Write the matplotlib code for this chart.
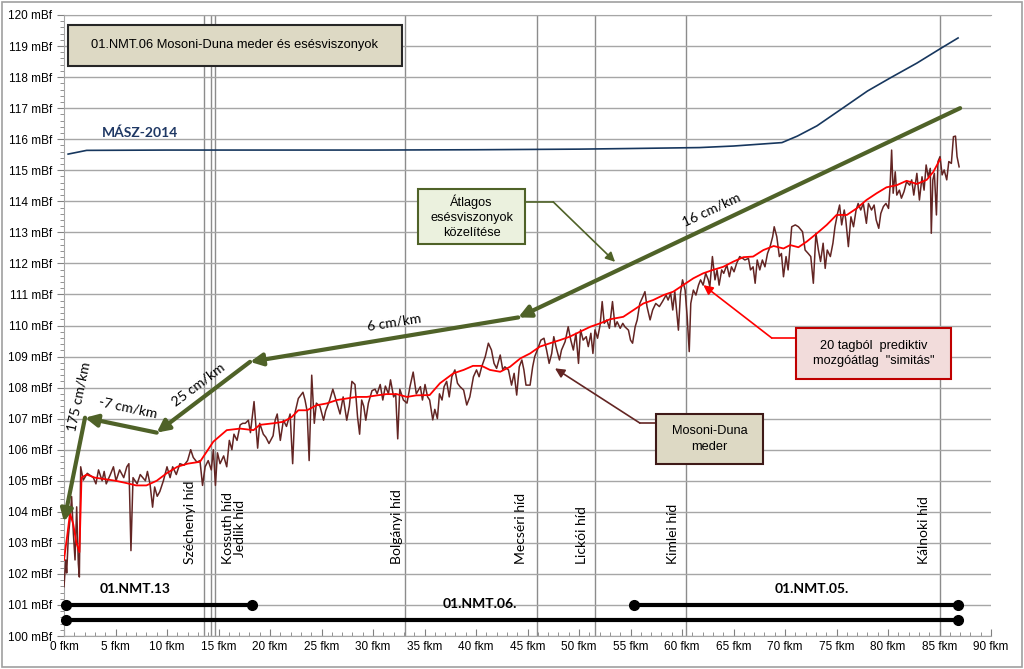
"""Mosoni-Duna meder es esesviszonyok (01.NMT.06) longitudinal profile."""

import matplotlib

matplotlib.use("Agg")
import matplotlib.pyplot as plt
from matplotlib.patches import Rectangle

# --- riverbed (Mosoni-Duna meder), km / mBf ---
river_km = [
    0.0, 0.17, 0.26, 0.42, 0.58, 0.74, 0.91, 1.07, 1.23, 1.39, 1.49, 1.62, 1.87, 2.26,
    2.85, 3.1, 3.35, 3.7, 3.9, 4.1, 4.5, 4.8, 5.05, 5.4, 5.8, 6.1, 6.3, 6.5, 6.7,
    7.1, 7.4, 7.9, 8.1, 8.35, 8.6, 8.8, 9.05, 9.3, 9.65, 10.0, 10.3, 10.55, 10.9,
    11.25, 11.65, 12.0, 12.3, 12.55, 12.9, 13.2, 13.45, 13.7, 14.0, 14.3, 14.5,
    14.7, 14.9, 15.15, 15.5, 15.8, 16.05, 16.3, 16.5, 16.8, 17.1, 17.35, 17.6, 17.9,
    18.1, 18.45, 18.8, 19.0, 19.35, 19.6, 19.9, 20.3, 20.5, 20.7, 21.0, 21.3, 21.6,
    21.95, 22.2, 22.4, 22.75, 23.2, 23.4, 23.6, 23.8, 24.05, 24.3, 24.5, 24.85,
    25.2, 25.4, 25.8, 26.1, 26.5, 26.8, 27.1, 27.45, 27.7, 27.95, 28.25, 28.5,
    28.7, 28.9, 29.1, 29.3, 29.55, 29.9, 30.2, 30.4, 30.7, 30.95, 31.2, 31.5,
    31.7, 32.0, 32.2, 32.4, 32.6, 32.95, 33.3, 33.6, 33.9, 34.2,
    34.6, 34.8, 35.05, 35.3, 35.5, 35.8, 36.0, 36.25, 36.45, 36.7, 36.9, 37.15,
    37.4, 37.65, 37.95, 38.2, 38.45, 38.8, 39.1, 39.4, 39.75, 40.05, 40.3, 40.55,
    40.9, 41.2, 41.5, 41.75, 42.0, 42.35, 42.6, 42.8, 43.15, 43.45, 43.7, 43.95,
    44.2, 44.45, 44.65, 44.85, 45.25, 45.5, 45.7, 45.95, 46.3, 46.6, 46.85, 47.1,
    47.35, 47.55, 47.8, 48.1, 48.3, 48.65, 48.95, 49.2, 49.45, 49.7, 49.95, 50.15,
    50.4, 50.7, 50.9, 51.15, 51.35, 51.55, 51.8, 52.05, 52.25, 52.45, 52.7, 52.95,
    53.25, 53.5, 53.7, 54.0, 54.25, 54.45, 54.8, 55.0, 55.2, 55.45, 55.65, 55.9,
    56.2, 56.4, 56.6, 56.9, 57.15, 57.45, 57.8, 58.1, 58.45, 58.65, 58.9, 59.1,
    59.3, 59.65, 59.85, 60.05, 60.3, 60.5, 60.7, 60.85, 61.1, 61.35, 61.6, 61.8,
    62.05, 62.3, 62.55, 62.7, 62.95, 63.2, 63.4, 63.6, 63.85, 64.05, 64.35, 64.6,
    64.8, 65.05, 65.3, 65.6, 65.9, 66.1, 66.45, 66.65, 66.9, 67.1, 67.3, 67.55,
    67.8, 68.05, 68.3, 68.55, 68.8, 68.95, 69.2, 69.45, 69.65, 69.85, 70.1, 70.3,
    70.65, 71.0, 71.3, 71.7, 71.95, 72.25, 72.5, 72.75, 73.0, 73.24, 73.45, 73.7,
    73.9, 74.1, 74.4, 74.65, 74.85, 75.1, 75.3, 75.5, 75.75, 75.9, 76.15, 76.4,
    76.65, 76.9, 77.1, 77.35, 77.6, 77.9, 78.1, 78.4, 78.65, 78.85, 79.1, 79.3,
    79.55, 79.8, 80.05, 80.2, 80.35, 80.5, 80.7, 80.85, 81.1, 81.3, 81.55, 81.8,
    82.1, 82.3, 82.5, 82.8, 83.05, 83.3, 83.5, 83.7, 83.9, 84.1, 84.2, 84.35,
    84.5, 84.7, 84.85, 85.05, 85.25, 85.45, 85.7, 85.9, 86.15, 86.35, 86.55,
    86.7, 86.9,
]
river_mbf = [
    101.59, 102.45, 102.03, 103.2, 103.74, 104.49, 103.3, 102.45, 104.16, 102.34,
    101.9, 105.45, 105.02, 105.24,
    105.1, 104.9, 105.35, 105.0, 105.3, 104.9, 105.2, 105.45, 105.0, 105.35, 105.1,
    105.45, 105.55, 102.75, 105.1, 104.9, 105.2, 105.0, 105.3, 104.9, 104.15, 104.8,
    104.5, 104.65, 105.0, 105.45, 105.1, 105.45, 105.2, 105.55, 105.5, 105.65,
    106.0, 105.75, 105.6, 105.65, 104.85, 105.45, 105.65, 105.35, 106.0, 104.85,
    105.9, 105.55, 105.8, 105.45, 106.3, 106.0, 106.5, 106.3, 106.8, 106.85, 106.85,
    106.95,
    106.55, 107.55, 106.05, 106.85, 106.5, 106.4, 106.2, 106.45, 106.95, 107.15,
    106.3, 106.95, 106.75, 107.15, 105.55, 107.15, 107.65, 107.85, 107.6, 107.25,
    105.65, 108.4, 106.85, 107.5, 107.4, 106.95, 107.25, 107.6, 107.95, 107.5,
    107.15, 107.7, 106.95, 107.4, 108.2, 108.1, 107.05, 106.5, 107.6, 107.4, 106.95,
    107.5, 107.9, 107.95, 107.8, 108.1, 107.6, 108.05, 107.8, 108.25, 107.7, 107.8,
    106.35, 107.95, 107.6, 107.5, 108.05, 108.5, 107.8,
    108.03, 107.6, 108.1, 107.7, 107.6, 106.96, 107.3, 107.0, 107.8, 107.6, 108.03,
    108.2, 107.7, 108.35, 108.57, 108.14, 108.03, 107.92, 107.44, 107.7, 108.35,
    108.57, 108.35, 108.67, 109.0, 109.43, 109.21, 108.78, 108.62, 109.05, 108.57,
    108.67, 108.57, 108.08, 108.46, 107.76, 108.67, 108.89, 108.57, 108.08, 108.08,
    108.67, 109.0, 109.21, 109.53, 109.59, 109.21, 108.78, 109.1, 109.64, 109.27,
    108.89, 109.21, 109.48, 109.96, 109.53, 109.21, 109.75, 108.78, 109.86, 109.53,
    109.64, 109.32, 109.75, 109.1, 109.86, 109.59, 110.02, 110.77, 110.07, 110.18,
    109.91,
    110.77, 109.96, 110.12, 109.91, 110.07, 109.96, 109.85, 109.53, 109.43, 109.96,
    110.18, 110.71, 110.93, 111.09, 110.61, 110.18, 110.5, 110.71, 110.61, 110.77,
    110.98, 110.82, 111.04, 110.5, 111.09, 109.85, 111.04, 111.47, 111.14, 110.28,
    109.16, 110.71, 111.14, 110.98, 111.3, 111.47, 111.3, 111.68, 111.47, 111.25,
    112.22, 111.47, 111.79, 111.3, 111.79, 111.68, 111.95, 111.57, 111.89, 111.73,
    112.0, 112.22, 112.16, 112.11, 112.16, 111.79, 111.89, 111.36, 112.11, 111.79,
    112.11, 111.89, 112.32, 112.54, 112.86, 113.18, 112.86, 112.22, 112.32, 111.57,
    112.22, 111.79,
    113.18, 113.24, 113.18, 113.02, 112.43, 112.32, 112.22, 111.36, 112.97, 112.43,
    112.06, 112.65, 111.84, 112.43, 112.22, 112.65, 113.18, 113.61, 113.88, 113.24,
    113.72, 113.4, 112.54, 113.5, 113.18, 113.72, 113.93, 113.72, 113.93, 113.29,
    113.93, 113.72, 113.88, 113.4, 113.13, 113.61, 113.83, 113.93, 113.77, 114.47,
    115.65, 114.26, 114.95, 114.2, 114.36, 114.1, 114.31, 114.63, 114.52, 114.69,
    114.2, 114.9, 114.04, 114.79, 114.36, 115.17, 114.79, 115.06, 112.97, 114.69,
    114.9, 113.56, 115.28, 115.44, 114.85, 115.01, 114.69, 115.28, 115.22, 116.08,
    116.1, 115.44, 115.11,
]

# --- 20-term predictive moving average ("simitas") ---
smooth_km = [
    0.0, 0.3, 0.58, 0.9, 1.2, 1.5, 1.7, 2.2, 3.0, 4.0, 5.0, 6.0, 7.0, 8.0, 9.0,
    10.0, 11.0, 12.0, 13.2, 14.5, 15.8, 17.1, 18.4, 19.0, 20.3, 21.3, 22.1, 22.75,
    23.6, 24.5, 25.5, 26.5, 27.45, 28.4, 29.4, 30.4, 31.3, 32.3, 33.3, 34.2, 35.5,
    36.5, 37.8, 38.8, 39.7, 40.55, 41.35, 42.35, 43.3, 44.3, 45.25, 46.2, 47.2,
    48.15, 49.1, 50.1, 51.1, 52.05, 53.0, 54.3, 55.3, 56.25, 57.2, 58.2, 59.15,
    60.1, 61.1, 62.05, 63.0, 64.0, 65.0, 65.95, 66.9, 67.9, 68.9, 69.85, 70.5,
    71.3, 72.1, 73.1, 74.05, 75.0, 76.0, 76.95, 77.9, 78.9, 79.85, 80.85, 81.8,
    82.8, 83.75, 84.4, 85.05,
]
smooth_mbf = [
    102.45, 103.2, 103.95, 103.6, 103.0, 102.7, 105.1, 105.2, 105.1, 105.05, 105.0,
    104.93, 104.85, 104.85, 105.0, 105.25, 105.45, 105.55, 105.61, 106.26, 106.63,
    106.68, 106.63, 106.8, 106.85, 106.9, 107.05, 107.27, 107.27, 107.43, 107.49,
    107.6, 107.65, 107.7, 107.7, 107.75, 107.79, 107.79, 107.7, 107.75, 107.76,
    108.14, 108.46, 108.57, 108.7, 108.7, 108.57, 108.51, 108.67, 108.94, 109.1,
    109.32, 109.43, 109.53, 109.64, 109.8, 109.96, 110.07, 110.2, 110.28, 110.5,
    110.71, 110.82, 110.98, 111.09, 111.3, 111.52, 111.68, 111.79, 111.89, 112.06,
    112.2, 112.22, 112.43, 112.56, 112.48, 112.59, 112.52, 112.7, 112.97, 113.24,
    113.56, 113.56, 113.77, 114.04, 114.26, 114.45, 114.52, 114.66, 114.56, 114.69,
    114.95, 115.35,
]

# --- MASZ-2014 water level ---
masz_km = [0.4, 2.2, 10.0, 20.0, 30.0, 40.0, 45.0, 50.0, 55.0, 61.7, 65.0, 69.7,
           71.2, 73.1, 75.6, 78.0, 80.2, 82.8, 85.0, 86.8]
masz_mbf = [115.52, 115.64, 115.65, 115.65, 115.65, 115.66, 115.67, 115.68, 115.7,
            115.73, 115.78, 115.89, 116.1, 116.43, 117.0, 117.55, 117.97, 118.45,
            118.9, 119.26]

# --- approximated mean slopes (green polyline, drawn from the upstream end) ---
slope_km = [87.0, 44.1, 18.06, 9.0, 2.04, 0.0]
slope_mbf = [117.0, 110.26, 108.83, 106.55, 107.03, 103.68]
slope_labels = ["16 cm/km", "6 cm/km", "25 cm/km", "-7 cm/km", "175 cm/km"]
slope_label_km = [62.9, 32.1, 13.0, 6.25, 1.45]
slope_label_mbf = [113.72, 110.1, 108.1, 107.35, 107.7]
slope_label_rot = [25, 9, 37, -12, 78]

# --- bridges ---
bridge_km = [13.6, 14.3, 14.7, 33.1, 45.9, 51.6, 60.4, 85.0]
bridge_names = ["Széchenyi híd", "Kossuth híd\nJedlik híd", "Bolgányi híd",
                "Mecséri híd", "Lickói híd", "Kimlei híd", "Kálnoki híd"]
bridge_label_km = [12.2, 16.5, 32.3, 44.4, 50.3, 59.1, 83.5]

# --- river sections ---
section_names = ["01.NMT.13", "01.NMT.05.", "01.NMT.06."]
section_start = [0.15, 55.3, 0.15]
section_end = [18.25, 86.8, 86.8]
section_level = [101.0, 101.0, 100.5]
section_label_km = [6.9, 72.6, 40.4]
section_label_mbf = [101.5, 101.5, 101.03]

BROWN = "#632523"
RED = "#ff0000"
NAVY = "#17375e"
OLIVE = "#4f6228"
GRID = "#a6a6a6"
ARIAL = "Liberation Sans"

figure = plt.figure(figsize=(10.24, 6.69), dpi=100)
axis = figure.add_axes([0.0625, 0.0493, 0.9053, 0.9283])
axis.set_xlim(0, 90)
axis.set_ylim(100, 120)

axis.set_yticks(range(100, 121))
axis.set_yticklabels([f"{v} mBf" for v in range(100, 121)], fontfamily=ARIAL,
                     fontsize=8.5)
axis.set_yticks([100 + i * 0.2 for i in range(101)], minor=True)
axis.set_xticks(range(0, 91, 5))
axis.set_xticklabels([f"{v} fkm" for v in range(0, 91, 5)], fontfamily=ARIAL,
                     fontsize=8.5)
axis.set_xticks(range(0, 91), minor=True)
axis.tick_params(axis="y", which="major", direction="out", length=5, color="#808080")
axis.tick_params(axis="y", which="minor", direction="out", length=3, color="#808080")
axis.tick_params(axis="x", which="major", direction="in", length=5, color="#808080")
axis.tick_params(axis="x", which="minor", direction="in", length=3, color="#808080")
axis.grid(axis="y", which="major", color=GRID, linewidth=1.0)
axis.spines["right"].set_visible(False)
for side in ("left", "bottom", "top"):
    axis.spines[side].set_color(GRID)

for km in bridge_km:
    axis.axvline(km, color="#8c8c8c", linewidth=1.0, zorder=1)

for name, km in zip(bridge_names, bridge_label_km):
    axis.text(km, 102.32, name, rotation=90, ha="center", va="bottom",
              fontfamily="Lato", fontsize=10, linespacing=1.0)

axis.plot(masz_km, masz_mbf, color=NAVY, linewidth=1.2, zorder=3)
axis.text(7.4, 116.2, "MÁSZ-2014", color="#1f3864", fontfamily="Lato",
          fontweight="bold", fontsize=10, ha="center", va="center")

axis.plot(river_km, river_mbf, color=BROWN, linewidth=1.1, zorder=4)
axis.plot(smooth_km, smooth_mbf, color=RED, linewidth=1.3, zorder=5)

for i in range(len(slope_km) - 1):
    axis.annotate(
        "", xy=(slope_km[i + 1], slope_mbf[i + 1]), xytext=(slope_km[i], slope_mbf[i]),
        arrowprops=dict(arrowstyle="-|>", color=OLIVE, lw=3.0, mutation_scale=18,
                        shrinkA=0, shrinkB=0),
        zorder=6,
    )
for label, km, mbf, rot in zip(slope_labels, slope_label_km, slope_label_mbf,
                               slope_label_rot):
    axis.text(km, mbf, label, rotation=rot, rotation_mode="anchor", ha="center",
              va="center", fontfamily="Lato", fontsize=10)

for start, end, level in zip(section_start, section_end, section_level):
    axis.plot([start, end], [level, level], color="black", linewidth=3,
              marker="o", markersize=7, zorder=6, clip_on=False)
for name, km, mbf in zip(section_names, section_label_km, section_label_mbf):
    axis.text(km, mbf, name, ha="center", va="center", fontfamily="Lato",
              fontweight="bold", fontsize=10)


def box(x0, x1, y0, y1, text, face, edge, size=9.2):
    axis.add_patch(Rectangle((x0, y0), x1 - x0, y1 - y0, facecolor=face,
                             edgecolor=edge, linewidth=1.5, zorder=7))
    axis.text((x0 + x1) / 2, (y0 + y1) / 2, text, ha="center", va="center",
              fontfamily=ARIAL, fontsize=size, linespacing=1.35, zorder=8)


box(0.39, 32.8, 118.36, 119.68, "01.NMT.06 Mosoni-Duna meder és esésviszonyok",
    "#ddd9c4", "#262626", size=9.3)
box(34.37, 44.76, 112.62, 114.4, "Átlagos\nesésviszonyok\nközelítése",
    "#ebf1de", OLIVE)
box(71.07, 86.1, 108.28, 109.92, '20 tagból  prediktiv\nmozgóátlag  "simitás"',
    "#f2dcdb", "#c00000")
box(57.48, 67.86, 105.54, 107.15, "Mosoni-Duna\nmeder", "#ddd9c4", "#3f1a18")

# leader lines from the boxes
leaders = [
    ((44.76, 113.98), (47.5, 113.98), (53.5, 112.05), OLIVE),
    ((71.07, 109.6), (68.7, 109.6), (62.07, 111.3), RED),
    ((57.48, 106.86), (55.9, 106.86), (47.67, 108.62), BROWN),
]
for start, elbow, tip, color in leaders:
    axis.plot([start[0], elbow[0]], [start[1], elbow[1]], color=color, linewidth=1.2,
              zorder=6)
    axis.annotate("", xy=tip, xytext=elbow,
                  arrowprops=dict(arrowstyle="-|>", color=color, lw=1.2,
                                  mutation_scale=14, shrinkA=0, shrinkB=0),
                  zorder=6)

figure.patches.append(Rectangle((0.002, 0.003), 0.996, 0.994, transform=figure.transFigure,
                                fill=False, edgecolor="#a0a0a0", linewidth=1.2))
figure.savefig("out.png", dpi=100)
plt.close(figure)
